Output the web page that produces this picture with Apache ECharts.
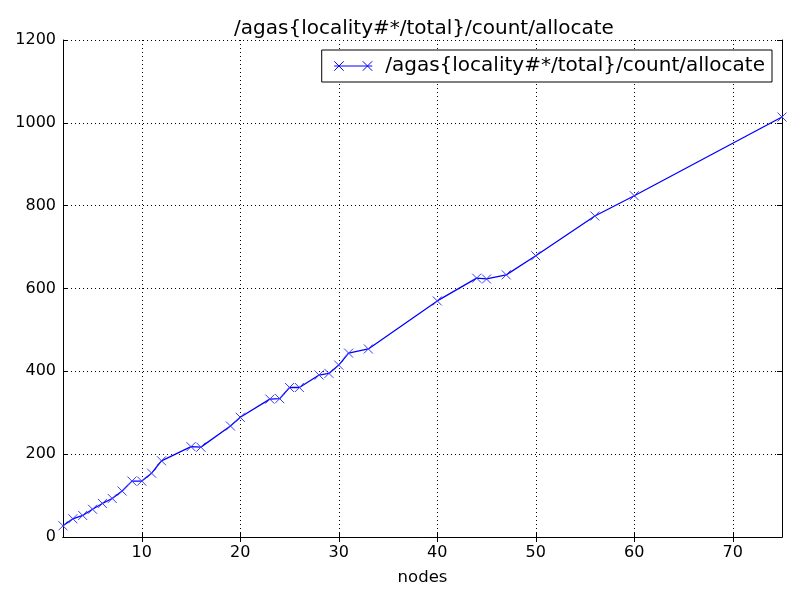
<!DOCTYPE html>
<html><head><meta charset="utf-8">
<script src="https://cdn.jsdelivr.net/npm/echarts@6/dist/echarts.min.js"></script>
<style>html,body{margin:0;padding:0;background:#fff}#c{width:800px;height:600px}</style>
</head><body><div id="c"></div>
<script>
const seriesName = '/agas{locality#*/total}/count/allocate';
const nodes = [2,3,4,5,6,7,8,9,10,11,12,15,16,19,20,23,24,25,26,28,29,30,31,33,40,44,45,47,50,56,60,75];
const allocate = [27,44,52,67,81,93,111,135,135,154,184,218,217,268,289,333,334,361,361,391,395,415,444,454,570,625,623,633,679,775,824,1014];
const xTicks = [10,20,30,40,50,60,70];
const yTicks = [0,200,400,600,800,1000,1200];

const data = nodes.map((n,i)=>[n, allocate[i]]);
const xMark = 'path://M0,0L10,10M10,0L0,10';
const font = 'DejaVu Sans';
const chart = echarts.init(document.getElementById('c'), null, {renderer:'canvas'});
const gridLine = {show:true, lineStyle:{color:'#000', type:[1,3], width:1}};
const baseX = {
  type:'value', min:2, max:75,
  axisLine:{show:true, lineStyle:{color:'#000', width:1}},
  axisTick:{show:true, inside:true, length:5, customValues:xTicks, lineStyle:{color:'#000'}},
  axisLabel:{show:true, customValues:xTicks, color:'#000', fontFamily:font, fontSize:16, margin:8},
  splitLine:gridLine
};
const baseY = {
  type:'value', min:0, max:1200, interval:200,
  axisLine:{show:true, lineStyle:{color:'#000', width:1}},
  axisTick:{show:true, inside:true, length:5, lineStyle:{color:'#000'}},
  axisLabel:{show:true, color:'#000', fontFamily:font, fontSize:16, margin:7,
    formatter:v=>String(v)},
  splitLine:gridLine
};
chart.setOption({
  animation:false,
  backgroundColor:'#fff',
  title:{text:seriesName, left:419, top:14, textAlign:'center',
    textStyle:{fontFamily:font, fontSize:20, fontWeight:'normal', color:'#000'}},
  grid:{left:63, right:18, top:40, bottom:63, show:false},
  legend:{show:true, right:28, top:50, orient:'vertical',
    backgroundColor:'#fff', borderColor:'#000', borderWidth:1, borderRadius:0,
    padding:[6,7,6,10], itemWidth:38, itemHeight:10, itemGap:6,
    icon:'path://M0,5L40,5M0,0L10,10M0,10L10,0M30,0L40,10M30,10L40,0',
    itemStyle:{color:'none', borderColor:'#0000ff', borderWidth:1},
    textStyle:{fontFamily:font, fontSize:20, color:'#000', padding:[0,0,0,8]},
    data:[seriesName]},
  xAxis:[
    Object.assign({}, baseX, {name:'nodes', nameLocation:'middle', nameGap:32,
      nameTextStyle:{fontFamily:font, fontSize:16.5, color:'#000'}}),
    Object.assign({}, baseX, {position:'top', axisLabel:{show:false, customValues:xTicks}, splitLine:{show:false}})
  ],
  yAxis:[
    baseY,
    Object.assign({}, baseY, {position:'right', axisLabel:{show:false}, splitLine:{show:false}})
  ],
  series:[{
    name:seriesName, type:'line', xAxisIndex:0, yAxisIndex:0,
    data:data, symbol:xMark, symbolSize:9, showAllSymbol:true,
    lineStyle:{color:'#0000ff', width:1.3},
    itemStyle:{color:'none', borderColor:'#3a3aff', borderWidth:1},
    emphasis:{disabled:true}
  }]
});
</script></body></html>
